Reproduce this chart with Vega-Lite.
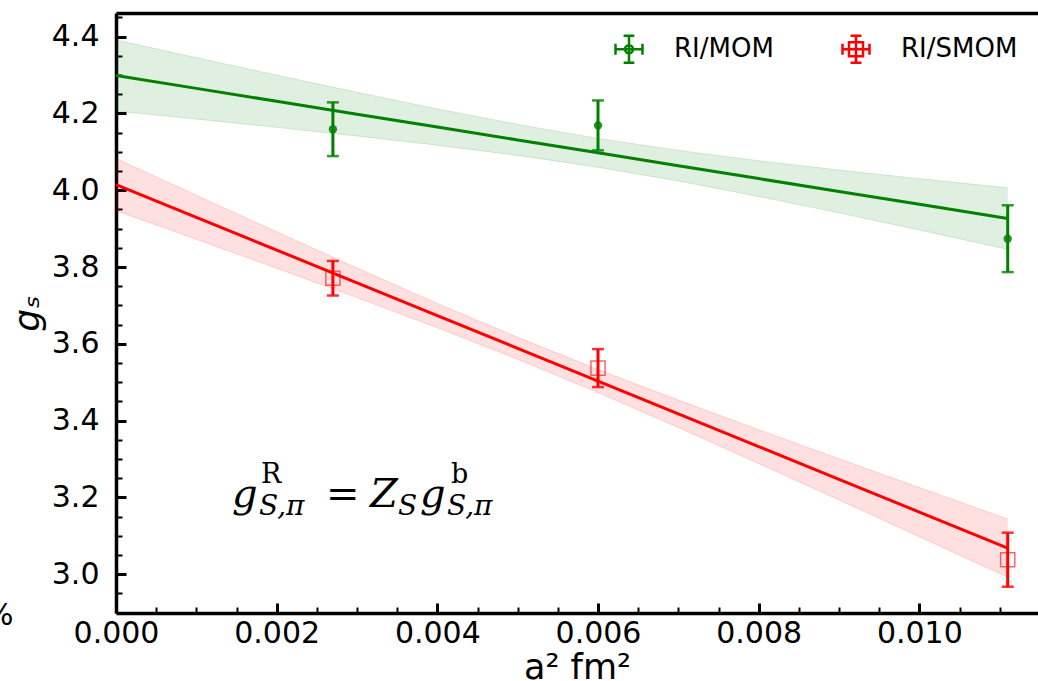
{
  "$schema": "https://vega.github.io/schema/vega-lite/v6.json",
  "width": 922,
  "height": 600,
  "autosize": "none",
  "padding": {"left": 116, "top": 13, "right": 0, "bottom": 68},
  "background": "white",
  "config": {
    "view": {"stroke": null},
    "font": "DejaVu Sans",
    "axis": {"grid": false, "domainColor": "black", "tickColor": "black", "labelColor": "black", "titleColor": "black", "domainWidth": 3.5}
  },
  "datasets": {
    "pts": [
      {"method": "RI/MOM", "x": 0.0027, "y": 4.159, "lo": 4.089, "hi": 4.229},
      {"method": "RI/MOM", "x": 0.006, "y": 4.169, "lo": 4.104, "hi": 4.234},
      {"method": "RI/MOM", "x": 0.0111, "y": 3.874, "lo": 3.787, "hi": 3.961},
      {"method": "RI/SMOM", "x": 0.0027, "y": 3.771, "lo": 3.726, "hi": 3.816},
      {"method": "RI/SMOM", "x": 0.006, "y": 3.537, "lo": 3.4875, "hi": 3.5865},
      {"method": "RI/SMOM", "x": 0.0111, "y": 3.038, "lo": 2.9676, "hi": 3.1084}
    ],
    "fit": [
      {"method": "RI/MOM", "x": 0, "y": 4.299, "lo": 4.2065, "hi": 4.3915},
      {"method": "RI/MOM", "x": 0.001, "y": 4.2654, "lo": 4.1855, "hi": 4.3453},
      {"method": "RI/MOM", "x": 0.002, "y": 4.2319, "lo": 4.164, "hi": 4.2998},
      {"method": "RI/MOM", "x": 0.003, "y": 4.1983, "lo": 4.1415, "hi": 4.2551},
      {"method": "RI/MOM", "x": 0.004, "y": 4.1648, "lo": 4.1176, "hi": 4.212},
      {"method": "RI/MOM", "x": 0.005, "y": 4.1312, "lo": 4.0909, "hi": 4.1715},
      {"method": "RI/MOM", "x": 0.006, "y": 4.0976, "lo": 4.0601, "hi": 4.1351},
      {"method": "RI/MOM", "x": 0.007, "y": 4.0641, "lo": 4.0243, "hi": 4.1039},
      {"method": "RI/MOM", "x": 0.008, "y": 4.0305, "lo": 3.9841, "hi": 4.0769},
      {"method": "RI/MOM", "x": 0.009, "y": 3.997, "lo": 3.9412, "hi": 4.0528},
      {"method": "RI/MOM", "x": 0.01, "y": 3.9634, "lo": 3.8966, "hi": 4.0302},
      {"method": "RI/MOM", "x": 0.0111, "y": 3.9265, "lo": 3.8465, "hi": 4.0065},
      {"method": "RI/SMOM", "x": 0, "y": 4.015, "lo": 3.947, "hi": 4.083},
      {"method": "RI/SMOM", "x": 0.001, "y": 3.9297, "lo": 3.8723, "hi": 3.9871},
      {"method": "RI/SMOM", "x": 0.002, "y": 3.8444, "lo": 3.797, "hi": 3.8918},
      {"method": "RI/SMOM", "x": 0.003, "y": 3.7591, "lo": 3.7206, "hi": 3.7976},
      {"method": "RI/SMOM", "x": 0.004, "y": 3.6738, "lo": 3.6421, "hi": 3.7055},
      {"method": "RI/SMOM", "x": 0.005, "y": 3.5885, "lo": 3.56, "hi": 3.617},
      {"method": "RI/SMOM", "x": 0.006, "y": 3.5032, "lo": 3.4732, "hi": 3.5332},
      {"method": "RI/SMOM", "x": 0.007, "y": 3.4179, "lo": 3.3822, "hi": 3.4536},
      {"method": "RI/SMOM", "x": 0.008, "y": 3.3326, "lo": 3.2886, "hi": 3.3766},
      {"method": "RI/SMOM", "x": 0.009, "y": 3.2473, "lo": 3.1937, "hi": 3.3009},
      {"method": "RI/SMOM", "x": 0.01, "y": 3.162, "lo": 3.098, "hi": 3.226},
      {"method": "RI/SMOM", "x": 0.0111, "y": 3.068, "lo": 2.992, "hi": 3.144}
    ],
    "bigItalic": [
      {"x": 0.001444, "y": 3.176, "t": "g"},
      {"x": 0.003162, "y": 3.176, "t": "Z"},
      {"x": 0.003784, "y": 3.176, "t": "g"}
    ],
    "bigUpright": [
      {"x": 0.002614, "y": 3.176, "t": "="}
    ],
    "supUpright": [
      {"x": 0.001805, "y": 3.237, "t": "R"},
      {"x": 0.00417, "y": 3.237, "t": "b"}
    ],
    "subItalic": [
      {"x": 0.00178, "y": 3.1544, "t": "S,π"},
      {"x": 0.00351, "y": 3.1544, "t": "S"},
      {"x": 0.00412, "y": 3.1544, "t": "S,π"}
    ],
    "stray": [
      {"x": -0.001631, "y": 2.868, "t": "%"}
    ]
  },
  "layer": [
    {
      "data": {"name": "fit"},
      "mark": {"type": "area", "opacity": 0.12},
      "encoding": {
        "x": {"field": "x", "type": "quantitative", "scale": {"domain": [0, 0.011477], "nice": false, "zero": false},
          "axis": {
            "orient": "bottom",
            "values": [0, 0.0005, 0.001, 0.0015, 0.002, 0.0025, 0.003, 0.0035, 0.004, 0.0045, 0.005, 0.0055, 0.006, 0.0065, 0.007, 0.0075, 0.008, 0.0085, 0.009, 0.0095, 0.01, 0.0105, 0.011],
            "labelExpr": "abs(datum.value*500-round(datum.value*500))<1e-6 ? format(datum.value,'.3f') : ''",
            "tickSize": {"condition": {"test": "abs(datum.value*500-round(datum.value*500))<1e-6", "value": -10}, "value": -6},
            "tickWidth": {"condition": {"test": "abs(datum.value*500-round(datum.value*500))<1e-6", "value": 3}, "value": 2},
            "labelFontSize": 30, "labelPadding": 15, "labelOverlap": false, "labelFlush": false,
            "title": "a² fm²", "titleFontSize": 35, "titleFontWeight": "normal", "titleBaseline": "alphabetic", "titleY": 65
          }
        },
        "y": {"field": "lo", "type": "quantitative", "scale": {"domain": [2.8992, 4.4617], "nice": false, "zero": false},
          "axis": {
            "orient": "left",
            "values": [2.95, 3, 3.05, 3.1, 3.15, 3.2, 3.25, 3.3, 3.35, 3.4, 3.45, 3.5, 3.55, 3.6, 3.65, 3.7, 3.75, 3.8, 3.85, 3.9, 3.95, 4, 4.05, 4.1, 4.15, 4.2, 4.25, 4.3, 4.35, 4.4, 4.45],
            "labelExpr": "abs(datum.value*5-round(datum.value*5))<1e-6 ? format(datum.value,'.1f') : ''",
            "tickSize": {"condition": {"test": "abs(datum.value*5-round(datum.value*5))<1e-6", "value": -10}, "value": -6},
            "tickWidth": {"condition": {"test": "abs(datum.value*5-round(datum.value*5))<1e-6", "value": 3}, "value": 2},
            "labelFontSize": 30, "labelPadding": 27, "labelOverlap": false, "labelFlush": false,
            "title": "gₛ", "titleFontSize": 36, "titleFontWeight": "normal", "titleFontStyle": "italic", "titleAngle": 270, "titleBaseline": "alphabetic", "titleX": -78
          }
        },
        "y2": {"field": "hi"},
        "color": {"field": "method", "type": "nominal", "scale": {"domain": ["RI/SMOM", "RI/MOM"], "range": ["red", "green"]}, "legend": null}
      }
    },
    {
      "data": {"name": "fit"},
      "mark": {"type": "line", "strokeWidth": 1, "opacity": 0.15},
      "encoding": {
        "x": {"field": "x", "type": "quantitative", "axis": null},
        "y": {"field": "lo", "type": "quantitative", "axis": null},
        "color": {"field": "method", "type": "nominal", "legend": null}
      }
    },
    {
      "data": {"name": "fit"},
      "mark": {"type": "line", "strokeWidth": 1, "opacity": 0.15},
      "encoding": {
        "x": {"field": "x", "type": "quantitative", "axis": null},
        "y": {"field": "hi", "type": "quantitative", "axis": null},
        "color": {"field": "method", "type": "nominal", "legend": null}
      }
    },
    {
      "data": {"name": "fit"},
      "mark": {"type": "line", "strokeWidth": 3},
      "encoding": {
        "x": {"field": "x", "type": "quantitative", "axis": null},
        "y": {"field": "y", "type": "quantitative", "axis": null},
        "color": {"field": "method", "type": "nominal", "legend": null}
      }
    },
    {
      "data": {"name": "pts"},
      "mark": {"type": "rule", "strokeWidth": 3},
      "encoding": {
        "x": {"field": "x", "type": "quantitative", "axis": null},
        "y": {"field": "lo", "type": "quantitative", "axis": null},
        "y2": {"field": "hi"},
        "color": {"field": "method", "type": "nominal", "legend": null}
      }
    },
    {
      "data": {"name": "pts"},
      "mark": {"type": "tick", "orient": "horizontal", "size": 12, "thickness": 2.5, "opacity": 0.8},
      "encoding": {
        "x": {"field": "x", "type": "quantitative", "axis": null},
        "y": {"field": "lo", "type": "quantitative", "axis": null},
        "color": {"field": "method", "type": "nominal", "legend": null}
      }
    },
    {
      "data": {"name": "pts"},
      "mark": {"type": "tick", "orient": "horizontal", "size": 12, "thickness": 2.5, "opacity": 0.8},
      "encoding": {
        "x": {"field": "x", "type": "quantitative", "axis": null},
        "y": {"field": "hi", "type": "quantitative", "axis": null},
        "color": {"field": "method", "type": "nominal", "legend": null}
      }
    },
    {
      "data": {"name": "pts"},
      "transform": [{"filter": "datum.method == 'RI/MOM'"}],
      "mark": {"type": "point", "shape": "circle", "filled": true, "size": 70, "opacity": 0.85, "color": "green"},
      "encoding": {
        "x": {"field": "x", "type": "quantitative", "axis": null},
        "y": {"field": "y", "type": "quantitative", "axis": null}
      }
    },
    {
      "data": {"name": "pts"},
      "transform": [{"filter": "datum.method == 'RI/SMOM'"}],
      "mark": {"type": "point", "shape": "square", "filled": false, "size": 200, "strokeWidth": 1.5, "opacity": 0.6, "color": "red"},
      "encoding": {
        "x": {"field": "x", "type": "quantitative", "axis": null},
        "y": {"field": "y", "type": "quantitative", "axis": null}
      }
    },
    {
      "data": {"name": "bigItalic"},
      "mark": {"type": "text", "font": "DejaVu Serif", "fontStyle": "italic", "fontSize": 40, "align": "left", "baseline": "alphabetic", "color": "black"},
      "encoding": {
        "x": {"field": "x", "type": "quantitative", "axis": null},
        "y": {"field": "y", "type": "quantitative", "axis": null},
        "text": {"field": "t"}
      }
    },
    {
      "data": {"name": "bigUpright"},
      "mark": {"type": "text", "font": "DejaVu Serif", "fontSize": 40, "align": "left", "baseline": "alphabetic", "color": "black"},
      "encoding": {
        "x": {"field": "x", "type": "quantitative", "axis": null},
        "y": {"field": "y", "type": "quantitative", "axis": null},
        "text": {"field": "t"}
      }
    },
    {
      "data": {"name": "supUpright"},
      "mark": {"type": "text", "font": "DejaVu Serif", "fontSize": 27, "align": "left", "baseline": "alphabetic", "color": "black"},
      "encoding": {
        "x": {"field": "x", "type": "quantitative", "axis": null},
        "y": {"field": "y", "type": "quantitative", "axis": null},
        "text": {"field": "t"}
      }
    },
    {
      "data": {"name": "subItalic"},
      "mark": {"type": "text", "font": "DejaVu Serif", "fontStyle": "italic", "fontSize": 28, "align": "left", "baseline": "alphabetic", "color": "black"},
      "encoding": {
        "x": {"field": "x", "type": "quantitative", "axis": null},
        "y": {"field": "y", "type": "quantitative", "axis": null},
        "text": {"field": "t"}
      }
    },
    {
      "data": {"name": "stray"},
      "mark": {"type": "text", "font": "DejaVu Sans", "fontSize": 30, "align": "left", "baseline": "alphabetic", "color": "black"},
      "encoding": {
        "x": {"field": "x", "type": "quantitative", "axis": null},
        "y": {"field": "y", "type": "quantitative", "axis": null},
        "text": {"field": "t"}
      }
    },
    {
      "data": {"name": "pts"},
      "mark": {"type": "point", "filled": false, "opacity": 1, "size": 0, "strokeWidth": 2.5},
      "encoding": {
        "x": {"field": "x", "type": "quantitative",
          "axis": {"orient": "top", "labels": false, "ticks": false, "domain": true, "domainWidth": 3.5, "title": null, "grid": false}},
        "y": {"field": "y", "type": "quantitative", "axis": null},
        "stroke": {"field": "method", "type": "nominal",
          "scale": {"domain": ["RI/MOM", "RI/SMOM"], "range": ["green", "red"]},
          "legend": {"orient": "none", "legendX": 498, "legendY": 21, "direction": "horizontal", "title": null, "labelFontSize": 26, "labelFont": "DejaVu Sans", "labelColor": "black", "symbolSize": 729, "symbolStrokeWidth": 2.5, "labelOffset": 30, "columnPadding": 63, "padding": 0}},
        "shape": {"field": "method", "type": "nominal",
          "scale": {"domain": ["RI/MOM", "RI/SMOM"], "range": [
            "M-1,0H1M0,-1V1M-1,-0.4V0.4M1,-0.4V0.4M-0.4,-1H0.4M-0.4,1H0.4M0.3,0A0.3,0.3,0,1,1,-0.3,0A0.3,0.3,0,1,1,0.3,0",
            "M-1,0H1M0,-1V1M-1,-0.4V0.4M1,-0.4V0.4M-0.4,-1H0.4M-0.4,1H0.4M-0.52,-0.52H0.52V0.52H-0.52Z"]},
          "legend": {"orient": "none", "legendX": 498, "legendY": 21, "direction": "horizontal", "title": null, "labelFontSize": 26, "labelFont": "DejaVu Sans", "labelColor": "black", "symbolSize": 729, "symbolStrokeWidth": 2.5, "labelOffset": 30, "columnPadding": 63, "padding": 0}}
      }
    }
  ],
  "resolve": {"axis": {"x": "independent", "y": "independent"}}
}
